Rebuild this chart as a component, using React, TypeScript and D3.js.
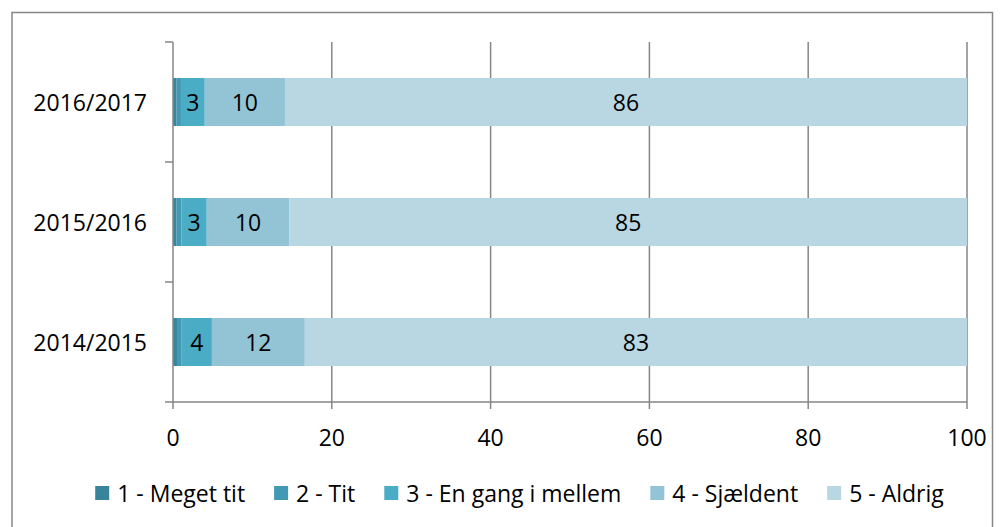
import React, { useEffect, useRef } from "react";
import * as d3 from "d3";

const years = ["2016/2017", "2015/2016", "2014/2015"];
const seriesNames = ["1 - Meget tit", "2 - Tit", "3 - En gang i mellem", "4 - Sjældent", "5 - Aldrig"];
const colors = ["#37849b", "#4299b4", "#4bacc6", "#93c4d6", "#b9d7e2"];
// values per series, in the order of years
const meget = [0.45, 0.45, 0.5];
const tit = [0.55, 0.6, 0.6];
const mellem = [3.0, 3.2, 3.8];
const sjaeldent = [10.1, 10.4, 11.7];
const aldrig = [85.9, 85.35, 83.4];
const seriesValues = [meget, tit, mellem, sjaeldent, aldrig];
const labelled = [false, false, true, true, true];
const xTicks = [0, 20, 40, 60, 80, 100];

const W = 1004;
const H = 527;
const FONT = "'Open Sans', sans-serif";
const FS = 23;
const GRID = "#868686";

export default function App() {
  const legendRef = useRef<SVGGElement>(null);

  const x = d3.scaleLinear().domain([0, 100]).range([173, 967]);
  const y = d3.scaleBand().domain(years).range([42, 402]).paddingInner(0.6).paddingOuter(0.3);
  const step = y.step();

  const stacks = years.map((yr, i) => {
    let acc = 0;
    return seriesValues.map((vals, s) => {
      const start = acc;
      acc += vals[i];
      return { yr, s, start, end: acc, v: vals[i] };
    });
  });

  useEffect(() => {
    const g = d3.select(legendRef.current);
    if (!g.node()) return;
    const items = g.selectAll<SVGGElement, unknown>("g.item").nodes();
    const gap = 29;
    const widths = items.map((n) => {
      const t = n.querySelector("text") as SVGTextElement;
      return 14 + 8 + t.getComputedTextLength();
    });
    const total = d3.sum(widths) + gap * (items.length - 1);
    let cx = 519.5 - total / 2;
    items.forEach((n, i) => {
      d3.select(n).attr("transform", `translate(${cx},493)`);
      cx += widths[i] + gap;
    });
  }, []);

  return (
    <svg width={W} height={H} style={{ display: "block", position: "absolute", left: 0, top: 0 }} fontFamily={FONT}>
      <rect x={0} y={0} width={W} height={H} fill="#fff" />
      <rect x={12} y={12.5} width={980.5} height={540} fill="none" stroke={GRID} strokeWidth={1.5} />
      {/* gridlines */}
      {xTicks.slice(1).map((t) => (
        <line key={t} x1={x(t)} x2={x(t)} y1={42} y2={402} stroke={GRID} strokeWidth={1.5} />
      ))}
      {/* bars */}
      {stacks.map((row) =>
        row.map((d) => (
          <rect
            key={d.yr + d.s}
            x={x(d.start)}
            y={y(d.yr)}
            width={x(d.end) - x(d.start)}
            height={y.bandwidth()}
            fill={colors[d.s]}
          />
        ))
      )}
      {/* value labels */}
      {stacks.map((row) =>
        row
          .filter((d) => labelled[d.s])
          .map((d) => (
            <text
              key={"l" + d.yr + d.s}
              x={(x(d.start) + x(d.end)) / 2}
              y={(y(d.yr) as number) + y.bandwidth() / 2}
              textAnchor="middle"
              dominantBaseline="central"
              fontSize={FS}
              fill="#000"
            >
              {Math.round(d.v)}
            </text>
          ))
      )}
      {/* y axis */}
      <line x1={x(0)} x2={x(0)} y1={42} y2={402} stroke={GRID} strokeWidth={1.5} />
      {years.map((yr) => (
        <line key={"yt" + yr} x1={165} x2={x(0)} y1={(y(yr) as number) - step * 0.3} y2={(y(yr) as number) - step * 0.3} stroke={GRID} strokeWidth={1.5} />
      ))}
      {years.map((yr) => (
        <text
          key={"yl" + yr}
          x={147}
          y={(y(yr) as number) + y.bandwidth() / 2}
          textAnchor="end"
          dominantBaseline="central"
          fontSize={FS}
          fill="#000"
        >
          {yr}
        </text>
      ))}
      {/* x axis */}
      <line x1={165} x2={x(100)} y1={402} y2={402} stroke={GRID} strokeWidth={1.5} />
      {xTicks.map((t) => (
        <g key={"xt" + t}>
          <line x1={x(t)} x2={x(t)} y1={402} y2={409} stroke={GRID} strokeWidth={1.5} />
          <text x={x(t)} y={437} textAnchor="middle" dominantBaseline="central" fontSize={FS} fill="#000">
            {t}
          </text>
        </g>
      ))}
      {/* legend */}
      <g ref={legendRef}>
        {seriesNames.map((n, i) => (
          <g className="item" key={n} transform={`translate(${91 + i * 170},493)`}>
            <rect x={0} y={-7} width={14} height={14} fill={colors[i]} />
            <text x={22} y={0} dominantBaseline="central" fontSize={FS} fill="#000">
              {n}
            </text>
          </g>
        ))}
      </g>
    </svg>
  );
}
